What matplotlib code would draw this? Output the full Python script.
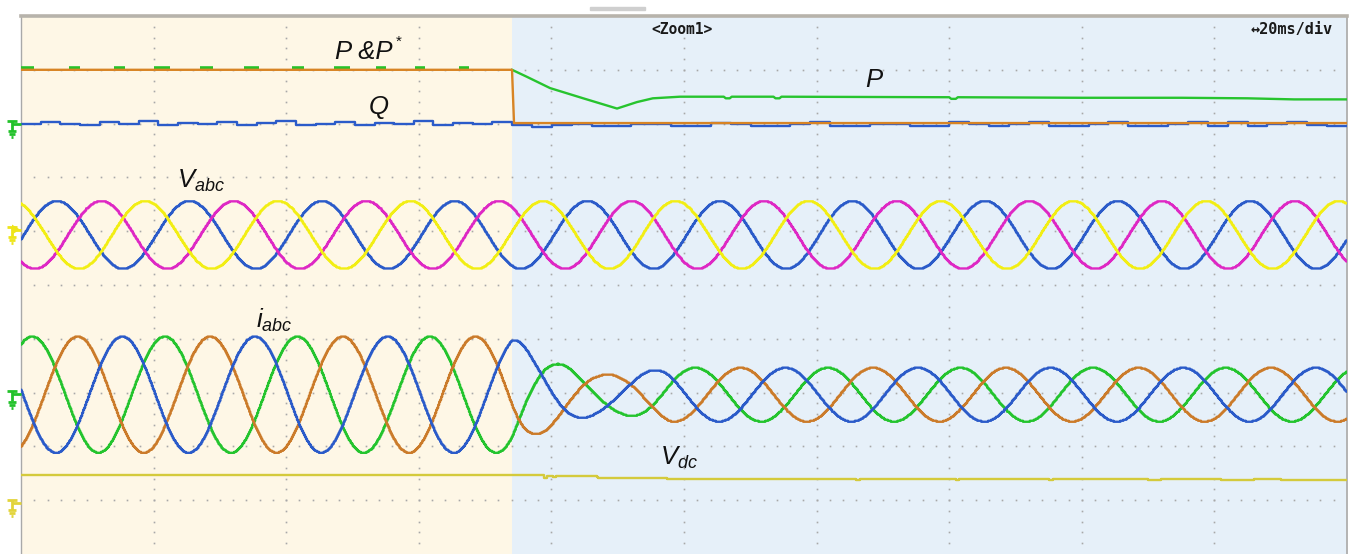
import numpy as np
import matplotlib
matplotlib.use('Agg')
import matplotlib.pyplot as plt
from matplotlib.patches import Rectangle

plt.rcParams['mathtext.fontset'] = 'custom'
plt.rcParams['mathtext.it'] = 'Liberation Sans:italic'
plt.rcParams['mathtext.rm'] = 'Liberation Sans'
plt.rcParams['mathtext.sf'] = 'Liberation Sans'

# ---- values (x in ms, y in divisions from bottom) ----
t_step = 74.06          # moment the reference P* drops
f_grid = 50.0           # Hz

# P* (orange) and P (green) level, Q zero level
p_ref_before = 9.0
p_ref_after = 8.01
# green P dashes that peek above P* before the step (start, end in ms)
p_dash_start = [0.0, 7.2, 14.0, 20.0, 27.0, 33.6, 40.9, 47.2, 53.5, 59.4, 66.0]
p_dash_end = [2.0, 8.9, 15.7, 22.5, 29.0, 35.9, 42.7, 49.6, 55.0, 61.0, 67.6]
p_dash_level = 9.025
# green P after the step
p_t = [74.06, 76.3, 79.8, 84.8, 89.9, 92.9, 95.3, 99.4, 106.0, 106.3, 106.9, 107.2,
       113.5, 113.8, 114.4, 114.7, 140.0, 140.3, 141.0, 141.3, 160.0, 175.0, 185.0,
       192.0, 200.0]
p_v = [9.0, 8.87, 8.66, 8.47, 8.28, 8.40, 8.47, 8.50, 8.50, 8.47, 8.47, 8.50,
       8.50, 8.47, 8.47, 8.50, 8.49, 8.46, 8.46, 8.49, 8.48, 8.48, 8.47,
       8.45, 8.45]

# Q (blue), around 8.0 div
q_level = 8.0
q_before = [0, 0.03, 0, -0.02, 0.03, 0, 0.04, -0.03, 0.02, 0, 0.03, -0.03, 0.02,
            0.04, -0.02, 0, 0.03, -0.03, 0.02, 0, 0.04, -0.02, 0.02, 0, 0.03]
q_after = [-0.02, -0.06, -0.02, 0, -0.05, -0.05, 0, 0, -0.05, -0.05, 0.02, 0, -0.05,
           -0.05, 0, 0.03, -0.05, -0.05, 0, 0, -0.05, -0.05, 0.03, 0, -0.05, 0, 0.03,
           -0.05, -0.05, 0, 0.03, -0.04, -0.05, 0, 0.03, -0.05, 0.03, -0.05, 0, 0.03,
           -0.03, -0.05]

# Vabc: centre, amplitude, time of first peak of each phase (ms)
v_center = 5.93
v_amp = 0.63
v_peaks = [5.43, 12.1, 18.76]          # blue, magenta, yellow
v_colors = ['#2B5BC9', '#DE28C4', '#F2EE14']

# iabc: centre, envelope (ms, div), first peak time of each phase
i_center = 2.96
i_env_t = [0, 74.1, 77.4, 80.6, 83.9, 87.0, 90.5, 94.0, 98.0, 200]
i_env_a = [1.08, 1.08, 0.77, 0.60, 0.46, 0.38, 0.37, 0.43, 0.50, 0.50]
i_peaks = [1.7, 8.55, 15.3]            # green, orange, blue
i_colors = ['#24C42E', '#CB7B2A', '#2B5BC9']

# Vdc
vdc_t = [0, 74.1, 78.5, 78.9, 79.4, 80.2, 80.7, 86.9, 87.1, 97.0, 97.4, 120.0, 126.0,
         126.6, 141.0, 141.5, 155.0, 155.6, 170.0, 172.0, 181.0, 186.0, 190.0, 200.0]
vdc_v = [1.46, 1.46, 1.46, 1.42, 1.45, 1.43, 1.45, 1.43, 1.42, 1.42, 1.39, 1.39, 1.37,
         1.39, 1.37, 1.39, 1.37, 1.39, 1.37, 1.39, 1.37, 1.39, 1.37, 1.38]

gnd_levels = [8.0, 6.03, 2.97, 0.95]
gnd_colors = ['#22C22A', '#EEE51A', '#22C22A', '#E2D43A']

cream = '#FEF7E6'
pale_blue = '#E6F0F9'
px_div = 53.7           # screen pixels per division (trace quantisation)

fig = plt.figure(figsize=(13.52, 5.54), dpi=100)
ax = fig.add_axes([21 / 1352, 0, 1326 / 1352, 538 / 554])
ax.set_xlim(0, 200)
ax.set_ylim(0, 10)
ax.set_xticks([])
ax.set_yticks([])
ax.spines['bottom'].set_visible(False)
ax.spines['top'].set_color('#B7B3AB')
ax.spines['top'].set_linewidth(2.6)
ax.spines['left'].set_color('#A9A9A9')
ax.spines['left'].set_linewidth(1.0)
ax.spines['right'].set_color('#B3B3B3')
ax.spines['right'].set_linewidth(1.4)

ax.axvspan(0, t_step, color=cream, zorder=0, lw=0)
ax.axvspan(t_step, 200, color=pale_blue, zorder=0, lw=0)

# dotted graticule
gx = np.arange(2, 200, 2)
for yv in range(1, 10):
    ax.plot(gx, np.full_like(gx, yv, dtype=float), ls='none', marker='s', ms=1.2,
            mew=0, color='#A8A8A8', zorder=1)
gy = np.arange(0.2, 10, 0.2)
for xv in range(20, 200, 20):
    ax.plot(np.full_like(gy, xv), gy, ls='none', marker='s', ms=1.2, mew=0,
            color='#A8A8A8', zorder=1)

t = np.arange(0, 200.01, 0.15)
lw = 1.7


def quant(v):
    return np.round(v * px_div) / px_div


# Vabc
for ph, col in zip(v_peaks, v_colors):
    v = v_center + v_amp * np.cos(2 * np.pi * f_grid * (t - ph) / 1000)
    ax.plot(t, quant(v), color=col, lw=lw, drawstyle='steps-mid', zorder=3)

# iabc
env = np.interp(t, i_env_t, i_env_a)
for ph, col in zip(i_peaks, i_colors):
    v = i_center + env * np.cos(2 * np.pi * f_grid * (t - ph) / 1000)
    ax.plot(t, quant(v), color=col, lw=lw, drawstyle='steps-mid', zorder=3)

# Vdc
ax.plot(vdc_t, vdc_v, color='#D4CA3C', lw=lw, drawstyle='steps-post', zorder=3)

# Q
qt_b = np.linspace(0, t_step, len(q_before) + 1)
qt_a = np.linspace(t_step, 200, len(q_after) + 1)
q_t = np.concatenate([qt_b, qt_a[1:]])
q_v = q_level + np.array(q_before + q_after + [q_after[-1]])
ax.plot(q_t, q_v, color='#2B5BC9', lw=lw, drawstyle='steps-post', zorder=3)

# P (green) and P* (orange)
for a, b in zip(p_dash_start, p_dash_end):
    ax.plot([a, b], [p_dash_level, p_dash_level], color='#27C22A', lw=2.6,
            solid_capstyle='butt', zorder=3)
ax.plot(p_t, p_v, color='#27C42E', lw=lw, zorder=3)
ax.plot([0, t_step, t_step + 0.3, 200],
        [p_ref_before, p_ref_before, p_ref_after, p_ref_after],
        color='#D88424', lw=lw, zorder=4)


# ground markers on the left edge
ms_px = 20 / 132.6


def gnd(level, color, arrow=False):
    def X(px):
        return (px - 21) * ms_px

    def Y(dy):
        return level - dy / px_div
    kw = dict(color=color, lw=2.0, clip_on=False, solid_capstyle='butt', zorder=5)
    ax.plot([X(7), X(17)], [Y(-3), Y(-3)], **kw)
    ax.plot([X(12), X(12)], [Y(-3), Y(7)], **kw)
    ax.plot([X(12), X(21)], [Y(0), Y(0)], **kw)
    ax.plot([X(8), X(16)], [Y(7.5), Y(7.5)], **kw)
    ax.plot([X(9.5), X(14.5)], [Y(10.5), Y(10.5)], **kw)
    ax.plot([X(11), X(13)], [Y(13.5), Y(13.5)], **kw)
    if arrow:
        ax.fill([X(12), X(20), X(12)], [Y(-5), Y(0), Y(5)], color=color,
                clip_on=False, zorder=5, lw=0)


for i, (lv, col) in enumerate(zip(gnd_levels, gnd_colors)):
    gnd(lv, col, arrow=(i == 1))

# top zoom-window indicator
fig.patches.append(Rectangle((590 / 1352, 1 - 9.5 / 554), 55 / 1352, 3 / 554,
                             transform=fig.transFigure, color='#CFCFCF'))

# labels
lab = dict(fontsize=18.5, color='#111111', ha='left', va='baseline', zorder=6)
ax.text(47.4, 9.2, 'P &P', family='Liberation Sans', style='italic', **lab)
ax.text(56.5, 9.45, '*', family='Liberation Sans', fontsize=11, color='#111111',
        ha='left', va='baseline', zorder=6)
ax.text(52.3, 8.17, r'$Q$', **lab)
ax.text(127.3, 8.68, r'$P$', **lab)
ax.text(23.5, 6.8, r'$V_{abc}$', **lab)
ax.text(35.4, 4.21, r'$i_{abc}$', **lab)
ax.text(96.4, 1.66, r'$V_{dc}$', **lab)

mono = ['DejaVu Sans Mono', 'DejaVu Sans']
ax.text(99.7, 9.74, '<Zoom1>', fontsize=10.5, family=mono, weight='bold',
        color='#1A1A1A', ha='center', va='center', zorder=6)
ax.text(197.9, 9.74, '\u219420ms/div', fontsize=11, family=mono, weight='bold',
        color='#1A1A1A', ha='right', va='center', zorder=6)

fig.savefig('out.png', dpi=100)
